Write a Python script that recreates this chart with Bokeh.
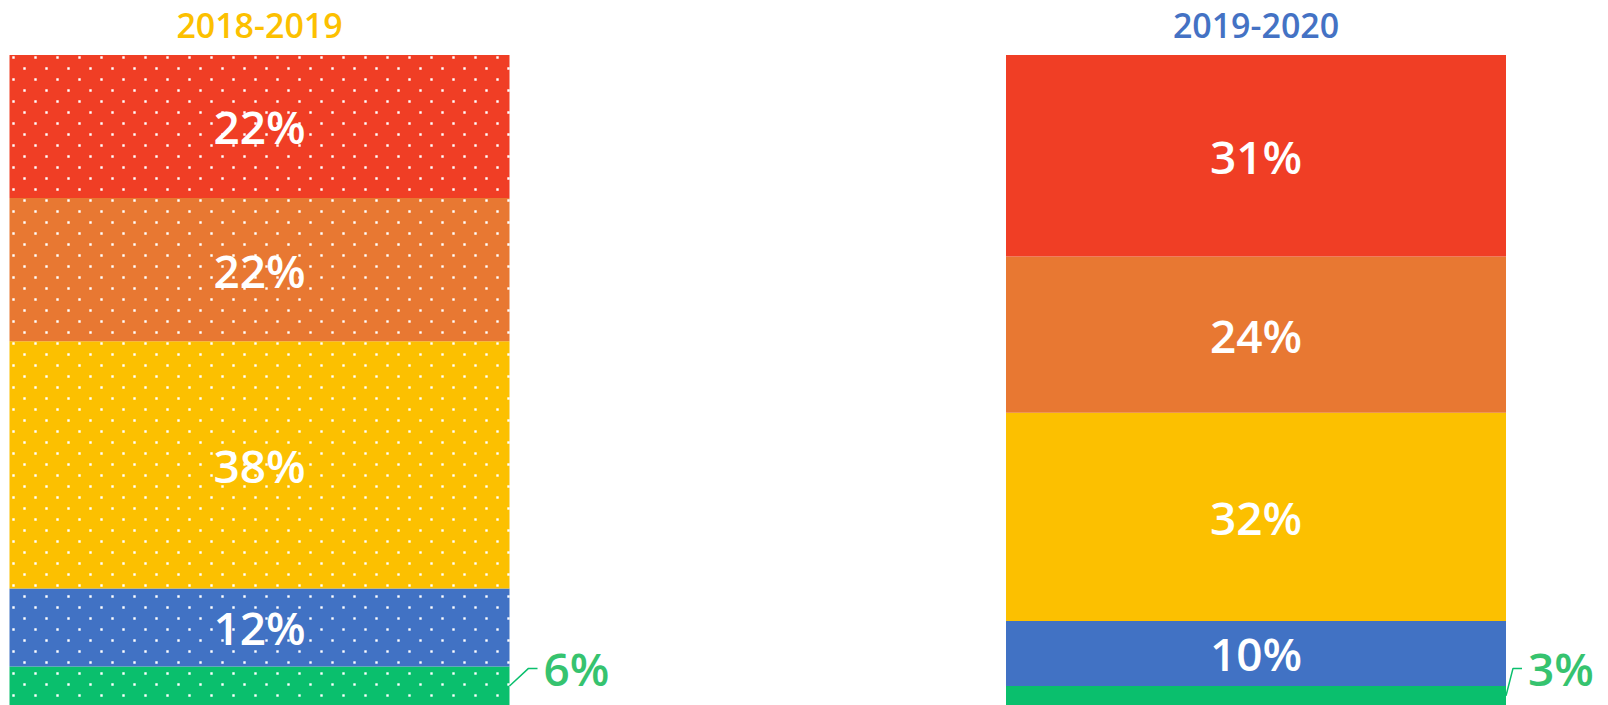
import numpy as np
from bokeh.plotting import figure
from bokeh.models import ColumnDataSource, Range1d
from bokeh.core.properties import value
from bokeh.embed import file_html
from bokeh.resources import INLINE

# ---- data ----
periods = ["2018-2019", "2019-2020"]
bands = ["band 1", "band 2", "band 3", "band 4", "band 5"]          # bottom -> top
band_colors = ["#0ABF6D", "#4172C4", "#FCC000", "#E87832", "#F03E25"]
values_2018_2019 = [6, 12, 38, 22, 22]
values_2019_2020 = [3, 10, 32, 24, 31]
title_colors = ["#FCC000", "#4472C4"]
patterned = [True, False]

series = [values_2018_2019, values_2019_2020]

W, H = 1608, 705
px_per_x = 996.5          # horizontal distance between bar centres
left_pad_px = 259
top_pad_px = 54.4
bar_px = 500
plot_px_h = H - top_pad_px
px_per_y = plot_px_h / 100.0
x_start = -left_pad_px / px_per_x
x_end = (W - left_pad_px) / px_per_x
y_end = 100 + top_pad_px / px_per_y
bar_w = bar_px / px_per_x

p = figure(width=W, height=H, output_backend="svg", toolbar_location=None,
           x_range=Range1d(x_start, x_end), y_range=Range1d(0, y_end),
           min_border=0, outline_line_color=None, background_fill_color="white",
           border_fill_color="white")
p.axis.visible = False
p.grid.visible = False

FONT = value("Open Sans SemiBold")
green_text = "#36C36F"


def dot_texture(center_x, total):
    """Staggered white-dot texture covering a bar (decoration only)."""
    step, half = 22.0, 11.0
    xs, ys = [], []
    n_rows = int(total * px_per_y / half) + 1
    for r in range(n_rows):
        py = 2.6 + r * half
        if py > total * px_per_y:
            break
        off = 4.0 if r % 2 == 0 else 4.0 + half
        cols = np.arange(off, bar_px, step)
        xs.extend(center_x + (cols - bar_px / 2) / px_per_x)
        ys.extend([total - py / px_per_y] * len(cols))
    return xs, ys


for i, (per, vals) in enumerate(zip(periods, series)):
    tops, bottoms, c = [], [], 0
    for v in vals:
        bottoms.append(c)
        c += v
        tops.append(c)
    src = ColumnDataSource(dict(x=[i] * len(vals), bottom=bottoms, top=tops,
                                color=band_colors, val=vals,
                                mid=[(b + t) / 2 for b, t in zip(bottoms, tops)],
                                lab=[f"{v}%" for v in vals]))
    p.vbar(x="x", width=bar_w, bottom="bottom", top="top", fill_color="color",
           line_color=None, source=src)

    if patterned[i]:
        dx, dy = dot_texture(i, tops[-1])
        p.scatter(x=dx, y=dy, marker="square", size=2.4, fill_color="white",
                  line_color=None)

    # inside labels
    inside = [k for k, v in enumerate(vals) if v >= 10]
    p.text(x=[i] * len(inside), y=[src.data["mid"][k] for k in inside],
           text=[src.data["lab"][k] for k in inside], text_color="white",
           text_font=FONT, text_font_size="46px", text_align="center",
           text_baseline="middle")

    # outside labels with leader line for small segments
    small = [k for k, v in enumerate(vals) if v < 10]
    for k in small:
        edge = i + bar_w / 2
        label_y = 5.7
        elbow = [19, 7][i] / px_per_x
        p.line(x=[edge, edge + elbow, edge + elbow + 9 / px_per_x],
               y=[src.data["mid"][k], label_y, label_y],
               line_color=band_colors[0], line_width=1.5)
        p.text(x=[edge + elbow + 15 / px_per_x], y=[label_y], text=[src.data["lab"][k]],
               text_color=green_text, text_font=FONT, text_font_size="46px",
               text_align="left", text_baseline="middle")

    # period title
    p.text(x=[i], y=[100], text=[per], text_color=title_colors[i], text_font=FONT,
           text_font_size="34px", text_align="center", text_baseline="middle",
           y_offset=-29)

open("out.html", "w").write(file_html(p, INLINE))
